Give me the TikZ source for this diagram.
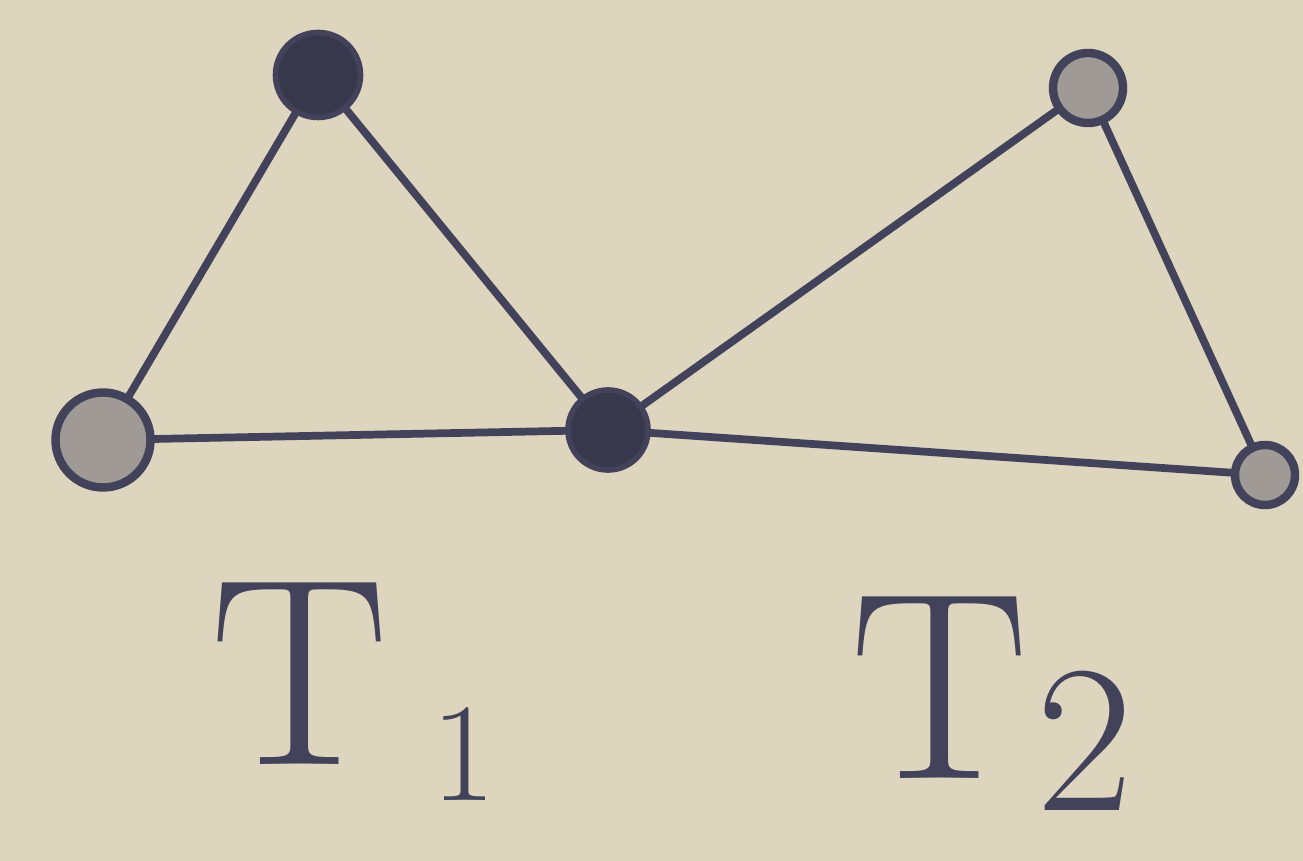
\documentclass[tikz,border=0pt]{standalone}
\usepackage{amsmath,amssymb}
\usetikzlibrary{arrows.meta,positioning}
\definecolor{paper}{RGB}{222,213,190}
\definecolor{ink}{RGB}{66,66,90}
\begin{document}
\begin{tikzpicture}[every node/.style={font=\small}]
\fill[paper] (0,0) rectangle (13.03,8.61);
\useasboundingbox (0,0) rectangle (13.03,8.61);
\tikzset{vfull/.style={circle,draw=ink,fill=ink!85!black,line width=1.6pt,minimum size=0.8cm,inner sep=0pt},
         vopen/.style={circle,draw=ink,fill=paper!60!ink,line width=2.4pt,minimum size=0.7cm,inner sep=0pt},
         edge/.style={draw=ink,line width=2.2pt,line cap=round},
         lbl/.style={text=ink,anchor=base west,inner sep=0pt,font=\fontsize{76}{76}\selectfont}}
\node[vfull,minimum size=0.85cm] (a) at (3.18,7.86) {};
\node[vopen,minimum size=0.95cm] (b) at (1.03,4.21) {};
\node[vfull] (c) at (6.08,4.31) {};
\node[vopen] (d) at (10.88,7.73) {};
\node[vopen,minimum size=0.6cm] (e) at (12.65,3.86) {};
\path[edge] (a)--(b);
\path[edge] (a)--(c);
\path[edge] (b)--(c);
\path[edge] (c)--(d);
\path[edge] (d)--(e);
\path[edge] (c)--(e);
\node[lbl] (t1) at (2.1,0.96) {T\hspace{12pt}\raisebox{-10pt}{\fontsize{40}{40}\selectfont 1}};
\node[lbl] (t2) at (8.5,0.82) {T\hspace{2pt}\raisebox{-9pt}{\fontsize{60}{60}\selectfont 2}};
\end{tikzpicture}
\end{document}
